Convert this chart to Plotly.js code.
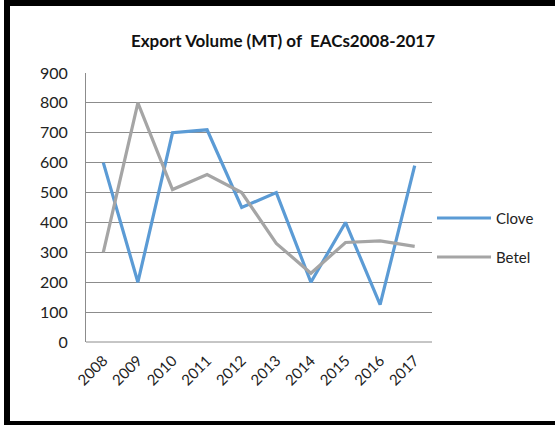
<!DOCTYPE html>
<html>
<head>
<meta charset="utf-8">
<script src="https://cdn.plot.ly/plotly-3.0.1.min.js"></script>
<style>
html,body{margin:0;padding:0;background:#fff;}
#chart{width:555px;height:425px;}
</style>
</head>
<body>
<div id="chart"></div>
<script>
const years = ["2008","2009","2010","2011","2012","2013","2014","2015","2016","2017"];
const seriesNames = ["Clove", "Betel"];
const clove = [600, 200, 700, 710, 450, 500, 200, 400, 125, 590];
const betel = [300, 800, 510, 560, 500, 330, 230, 333, 338, 320];
const yTicks = [0,100,200,300,400,500,600,700,800,900];

const W = 555, H = 425;
const M = {l: 86, r: 123, t: 73, b: 83};
const pw = W - M.l - M.r, ph = H - M.t - M.b;
const px = v => (v - M.l) / pw;
const py = v => (H - M.b - v) / ph;

const font = "Lato, 'Open Sans', sans-serif";
const colors = ["#5B9BD5", "#A5A5A5"];

const traces = [
  {x: years, y: clove, name: seriesNames[0], type: "scatter", mode: "lines",
   line: {color: colors[0], width: 3.2}},
  {x: years, y: betel, name: seriesNames[1], type: "scatter", mode: "lines",
   line: {color: colors[1], width: 3.2}}
];

const legendY = [218, 257];
const shapes = [
  {type: "line", xref: "paper", yref: "paper", x0: px(86), x1: px(432), y0: py(342), y1: py(342),
   line: {color: "#8c8c8c", width: 1}},
  {type: "rect", xref: "paper", yref: "paper", x0: px(4), x1: px(10), y0: py(0), y1: py(425),
   fillcolor: "#000", line: {width: 0}},
  {type: "rect", xref: "paper", yref: "paper", x0: px(4), x1: px(555), y0: py(0), y1: py(6),
   fillcolor: "#000", line: {width: 0}},
  {type: "rect", xref: "paper", yref: "paper", x0: px(4), x1: px(555), y0: py(421), y1: py(425),
   fillcolor: "#000", line: {width: 0}}
];
const annotations = [];
seriesNames.forEach((n, i) => {
  shapes.push({type: "line", xref: "paper", yref: "paper",
    x0: px(437), x1: px(491), y0: py(legendY[i]), y1: py(legendY[i]),
    line: {color: colors[i], width: 3.2}});
  annotations.push({text: n, xref: "paper", yref: "paper", x: px(494), y: py(legendY[i]),
    xanchor: "left", yanchor: "middle", showarrow: false,
    font: {family: font, size: 15, color: "#222"}});
});

const layout = {
  width: W, height: H,
  margin: M,
  paper_bgcolor: "#fff", plot_bgcolor: "#fff",
  font: {family: font, color: "#222", size: 16},
  title: {text: "<b>Export Volume (MT) of  EACs2008-2017</b>",
          font: {family: font, size: 17, color: "#111"},
          x: 283 / W, xanchor: "center", y: 1 - 41 / H, yanchor: "middle"},
  xaxis: {type: "category", range: [-0.5, 9.5], showgrid: false,
          showline: false, zeroline: false, ticks: "",
          tickangle: -45, ticklabelstandoff: 6, tickfont: {size: 15, color: "#222"}},
  yaxis: {range: [0, 900], tickvals: yTicks, ticktext: yTicks.map(String),
          showgrid: true, gridcolor: "#8c8c8c", gridwidth: 1,
          showline: true, linecolor: "#8c8c8c", linewidth: 1,
          zeroline: false, ticks: "", ticklabelstandoff: 14,
          tickfont: {size: 16, color: "#222"}},
  showlegend: false,
  shapes: shapes,
  annotations: annotations
};

Plotly.newPlot("chart", traces, layout, {displayModeBar: false, staticPlot: true});
</script>
</body>
</html>
